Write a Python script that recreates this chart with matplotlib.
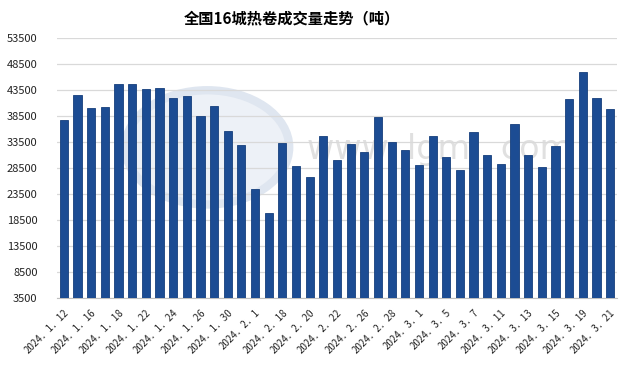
import matplotlib
matplotlib.use("Agg")
import matplotlib.pyplot as plt
from matplotlib.patches import Ellipse

plt.rcParams['font.family'] = ['Noto Sans CJK SC', 'DejaVu Sans']

dates = ["1.12", "1.15", "1.16", "1.17", "1.18", "1.19", "1.22", "1.23", "1.24", "1.25",
         "1.26", "1.29", "1.30", "1.31", "2.1", "2.2", "2.18", "2.19", "2.20", "2.21",
         "2.22", "2.23", "2.26", "2.27", "2.28", "2.29", "3.1", "3.4", "3.5", "3.6",
         "3.7", "3.8", "3.11", "3.12", "3.13", "3.14", "3.15", "3.18", "3.19", "3.20", "3.21"]
volume = [37850, 42500, 40000, 40250, 44750, 44650, 43800, 43950, 42000, 42400,
          38600, 40450, 35650, 32950, 24500, 19850, 33400, 28950, 26700, 34700,
          30050, 33150, 31650, 38400, 33500, 32050, 29150, 34650, 30600, 28200,
          35450, 30950, 29350, 37050, 30950, 28700, 32800, 41850, 47050, 42000, 39950]
yticks = list(range(3500, 53501, 5000))

fig = plt.figure(figsize=(6.34, 3.68), dpi=100)
ax = fig.add_axes([57/634, 70/368, 560/634, 259.7/368])

# faint watermark
ax.add_patch(Ellipse((10.5, 32500), 12.0, 22000, facecolor='#edf1f7', edgecolor='#dfe6f0',
                     lw=6, zorder=0))
ax.text(27.5, 32000, "www. lgmi. com", fontsize=24, color='#e0e0e0', ha='center',
        va='center', family='DejaVu Sans', zorder=0)

x = range(len(volume))
ax.bar(x, volume, width=0.6, color='#1c4c93', edgecolor='#163f7c', linewidth=0.6,
       zorder=3)

ax.set_ylim(3500, 53500)
ax.set_xlim(-0.5, len(volume) - 0.5)
ax.set_yticks(yticks)
ax.set_yticklabels([str(v) for v in yticks], fontsize=8, color='#222222')
ax.yaxis.grid(True, color='#d9d9d9', linewidth=0.9, zorder=1)
ax.set_axisbelow(True)

labels = ["2024．" + d.replace(".", "．") if i % 2 == 0 else "" for i, d in enumerate(dates)]
ax.set_xticks(list(x))
ax.set_xticklabels(labels, rotation=45, ha='right', rotation_mode='anchor',
                   fontsize=7, color='#222222')
ax.tick_params(axis='both', length=0)
ax.tick_params(axis='x', pad=7)
ax.tick_params(axis='y', pad=14)

for s in ['top', 'right', 'left']:
    ax.spines[s].set_visible(False)
ax.spines['bottom'].set_color('#bfbfbf')

fig.text(292/634, 1 - 18/368, "全国16城热卷成交量走势（吨）", fontsize=11, fontweight='bold',
         ha='center', va='center')

fig.savefig("out.png", dpi=100)
